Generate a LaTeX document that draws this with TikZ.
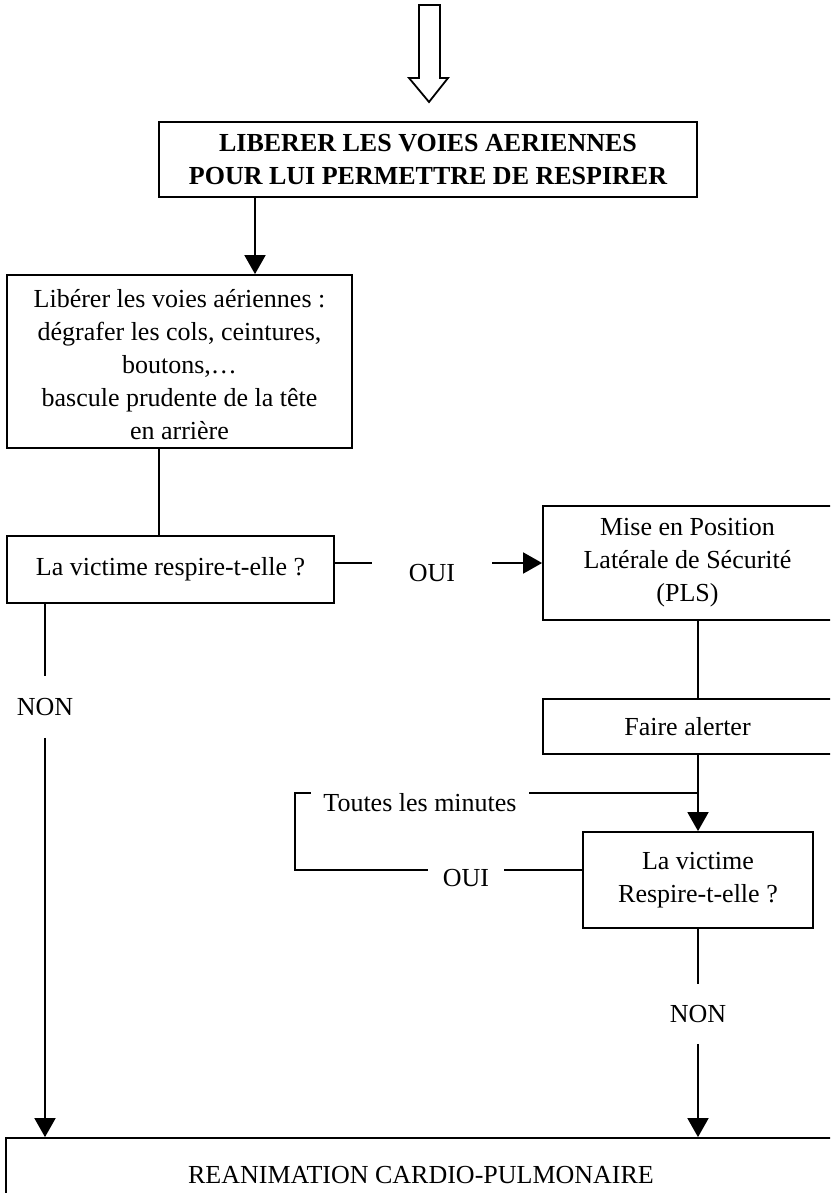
\documentclass[tikz,border=0pt]{standalone}
\usepackage{fontspec}
\setmainfont{Liberation Serif}
\usetikzlibrary{arrows.meta}
\newcommand\fsz{\fontsize{13}{16.5}\selectfont}
\begin{document}
\begin{tikzpicture}[x=0.5pt,y=-0.5pt, line width=0.9pt,
  box/.style={draw, line width=0.9pt, align=center, inner sep=0pt, font=\fsz},
  lbl/.style={align=center, inner ysep=0pt, font=\fsz},
  arr/.style={-{Triangle[length=9.5pt,width=10.5pt]}, line width=0.9pt},
  bigarrow/.style={draw, line width=0.9pt, line join=miter, fill=white}]
\useasboundingbox (0,0) rectangle (830,1193);
\clip (0,0) rectangle (830,1193);
% top block arrow
\draw[bigarrow] (419,5) -- (440,5) -- (440,78) -- (448,78) -- (429,102) -- (409,78) -- (419,78) -- cycle;
% boxes
\node[box, minimum width=269pt, minimum height=37.5pt] (top) at (428,159.5)
  {\bfseries LIBERER LES VOIES AERIENNES\\\bfseries POUR LUI PERMETTRE DE RESPIRER};
\node[box, minimum width=172.5pt, minimum height=86.5pt] (box2) at (179.5,361.5)
  {\rule{0pt}{12pt}Libérer les voies aériennes :\\dégrafer les cols, ceintures,\\boutons,…\\bascule prudente de la tête\\en arrière};
\node[box, minimum width=163.5pt, minimum height=33.5pt] (box3) at (170.5,569.5)
  {La victime respire-t-elle ?};
\node[box, minimum width=144.5pt, minimum height=57pt] (pls) at (687.5,563)
  {Mise en Position\\Latérale de Sécurité\\(PLS)};
\node[box, minimum width=144.5pt, minimum height=27.5pt] (fa) at (687.5,726.5)
  {Faire alerter};
\node[box, minimum width=115pt, minimum height=48pt] (v2) at (698,880)
  {La victime\\Respire-t-elle ?};
\node[box, minimum width=415pt, minimum height=37pt] (rcp) at (421,1175)
  {REANIMATION CARDIO-PULMONAIRE};
% labels
\node[lbl, inner xsep=18pt] (oui1) at (432,573) {OUI};
\node[lbl, inner xsep=7pt] (oui2) at (466,878) {OUI};
\node[lbl, inner xsep=6pt] (toutes) at (420,803) {Toutes les minutes};
\node[lbl, minimum height=30pt] (non1) at (45,707) {NON};
\node[lbl, minimum height=29pt] (non2) at (698,1014) {NON};
% connectors
\draw[arr] (255,0 |- top.south) -- (255,0 |- box2.north);
\draw (159,0 |- box2.south) -- (159,0 |- box3.north);
\draw (box3.east |- pls.west) -- (oui1.west |- pls.west);
\draw[arr] (pls.west -| oui1.east) -- (pls.west);
\draw (698,0 |- pls.south) -- (698,0 |- fa.north);
\draw[arr] (698,0 |- fa.south) -- (v2.north);
\coordinate (j) at (698,793);
\draw (j) -- (j -| toutes.east);
\draw (toutes.west |- j) -- (295,793) -- (295,870) -- (oui2.west |- 0,870);
\draw (oui2.east |- 0,870) -- (v2.west |- 0,870);
\draw (45,0 |- box3.south) -- (non1.north);
\draw[arr] (non1.south) -- (45,0 |- rcp.north);
\draw (v2.south) -- (non2.north);
\draw[arr] (non2.south) -- (698,0 |- rcp.north);
\end{tikzpicture}
\end{document}
